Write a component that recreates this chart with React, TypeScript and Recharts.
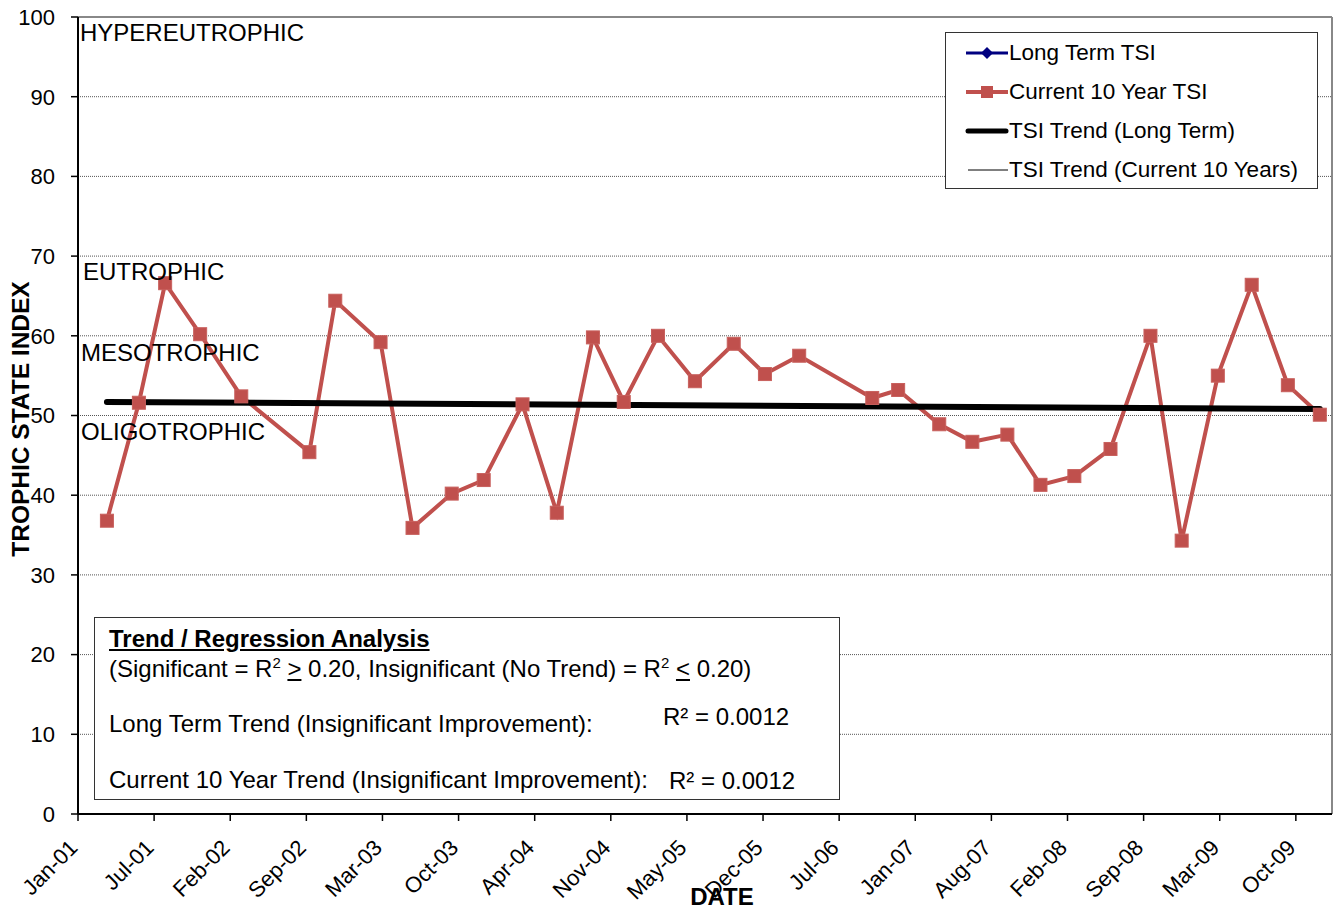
import React from "react";
import { LineChart, Line, XAxis, YAxis, CartesianGrid, ReferenceLine } from "recharts";

// sample dates and TSI values
const sampleDates = [
  "2001-03-28", "2001-06-20", "2001-08-28", "2001-11-28", "2002-03-16", "2002-09-11",
  "2002-11-18", "2003-03-17", "2003-06-09", "2003-09-20", "2003-12-13", "2004-03-24",
  "2004-06-22", "2004-09-25", "2004-12-15", "2005-03-15", "2005-06-20", "2005-09-30",
  "2005-12-21", "2006-03-21", "2006-09-29", "2006-12-06", "2007-03-24", "2007-06-19",
  "2007-09-19", "2007-12-15", "2008-03-13", "2008-06-16", "2008-09-29", "2008-12-20",
  "2009-03-25", "2009-06-22", "2009-09-25", "2009-12-18",
];
const tsiValues = [
  36.8, 51.6, 66.6, 60.2, 52.4, 45.4, 64.4, 59.2, 35.9, 40.2, 41.9, 51.4,
  37.8, 59.8, 51.7, 60.0, 54.3, 59.0, 55.2, 57.5, 52.2, 53.2, 48.9, 46.7,
  47.6, 41.3, 42.4, 45.8, 60.0, 34.3, 55.0, 66.4, 53.8, 50.1,
];
// trend line values at first and last sample
const trendValues = [51.7, 50.8];

const tickLabels = [
  "Jan-01", "Jul-01", "Feb-02", "Sep-02", "Mar-03", "Oct-03", "Apr-04", "Nov-04", "May-05",
  "Dec-05", "Jul-06", "Jan-07", "Aug-07", "Feb-08", "Sep-08", "Mar-09", "Oct-09",
];
const yTicks = [0, 10, 20, 30, 40, 50, 60, 70, 80, 90, 100];

const AXIS_START = 10; // days after Jan 1 2001
const TICK_STEP = 200; // days
const AXIS_END = 3305;

const toDay = (s: string) => {
  const [y, m, d] = s.split("-").map(Number);
  return (Date.UTC(y, m - 1, d) - Date.UTC(2001, 0, 1)) / 86400000;
};

const tsiData = sampleDates.map((d, i) => ({ day: toDay(d), tsi: tsiValues[i] }));
const trendData = [
  { day: toDay(sampleDates[0]), tsi: trendValues[0] },
  { day: toDay(sampleDates[sampleDates.length - 1]), tsi: trendValues[1] },
];
const xTicks = tickLabels.map((_, i) => AXIS_START + i * TICK_STEP);

const FONT = "'Liberation Sans', Arial, sans-serif";
const RED = "#C0504D";

const SquareDot = (props: any) => {
  const { cx, cy } = props;
  if (cx == null || cy == null) return null;
  return <rect x={cx - 6.5} y={cy - 6.5} width={13} height={13} fill={RED} stroke="#C8605D" strokeWidth={1} />;
};

const XTick = (props: any) => {
  const { x, y, index } = props;
  const ax = x + 1;
  const ay = y + 26;
  return (
    <text x={ax} y={ay} transform={`rotate(-45 ${ax} ${ay})`} textAnchor="end" fontSize={22} fontFamily={FONT} fill="#000">
      {tickLabels[index]}
    </text>
  );
};

const legendItems = [
  { label: "Long Term TSI", kind: "diamond" },
  { label: "Current 10 Year TSI", kind: "square" },
  { label: "TSI Trend (Long Term)", kind: "thick" },
  { label: "TSI Trend (Current 10 Years)", kind: "thin" },
];

const LegendBox = () => (
  <div
    style={{
      position: "absolute",
      left: 945,
      top: 32,
      width: 373,
      height: 157,
      border: "1px solid #333",
      background: "#fff",
      fontFamily: FONT,
      fontSize: 22.5,
      boxSizing: "border-box",
      paddingTop: 0,
    }}
  >
    {legendItems.map((it) => (
      <div key={it.label} style={{ display: "flex", alignItems: "center", height: 39 }}>
        <svg width={63} height={20} style={{ flex: "none" }}>
          {it.kind === "diamond" && (
            <>
              <line x1={20} y1={10} x2={62} y2={10} stroke="#000080" strokeWidth={3} />
              <polygon points="41,4 47,10 41,16 35,10" fill="#000080" />
            </>
          )}
          {it.kind === "square" && (
            <>
              <line x1={20} y1={10} x2={62} y2={10} stroke={RED} strokeWidth={4} />
              <rect x={35} y={4} width={12} height={12} fill={RED} />
            </>
          )}
          {it.kind === "thick" && <line x1={22} y1={10} x2={60} y2={10} stroke="#000" strokeWidth={5} strokeLinecap="round" />}
          {it.kind === "thin" && <line x1={22} y1={10} x2={62} y2={10} stroke="#000" strokeWidth={1} />}
        </svg>
        <span style={{ whiteSpace: "nowrap" }}>{it.label}</span>
      </div>
    ))}
  </div>
);

const txt: React.CSSProperties = { position: "absolute", fontFamily: FONT, whiteSpace: "nowrap", color: "#000" };

export default function App() {
  return (
    <div style={{ position: "absolute", left: 0, top: 0, width: 1335, height: 909, background: "#fff", overflow: "hidden" }}>
      <LineChart width={1335} height={909} margin={{ top: 17, right: 3, left: 0, bottom: 0 }}>
        <CartesianGrid vertical={false} stroke="#555" strokeDasharray="1 1" />
        <XAxis
          type="number"
          dataKey="day"
          domain={[AXIS_START, AXIS_END]}
          ticks={xTicks}
          tick={<XTick />}
          height={95}
          allowDataOverflow
          axisLine={{ stroke: "#000", strokeWidth: 2 }}
          tickLine={{ stroke: "#000", strokeWidth: 1.5 }}
          tickSize={7}
          interval={0}
        />
        <YAxis
          type="number"
          domain={[0, 100]}
          ticks={yTicks}
          width={78}
          tick={{ fontSize: 22, fontFamily: FONT, fill: "#000" }}
          axisLine={{ stroke: "#000", strokeWidth: 2 }}
          tickLine={{ stroke: "#000", strokeWidth: 1.5 }}
          tickSize={7}
          tickMargin={16}
          interval={0}
        />
        <ReferenceLine y={100} stroke="#888" strokeWidth={2} />
        <ReferenceLine x={AXIS_END} stroke="#888" strokeWidth={2} />
        <Line
          data={tsiData}
          dataKey="tsi"
          name="Current 10 Year TSI"
          stroke={RED}
          strokeWidth={4}
          dot={<SquareDot />}
          isAnimationActive={false}
        />
        <Line
          data={trendData}
          dataKey="tsi"
          name="TSI Trend (Long Term)"
          stroke="#000"
          strokeWidth={6}
          strokeLinecap="round"
          dot={false}
          isAnimationActive={false}
        />
        <Line
          data={trendData}
          dataKey="tsi"
          name="TSI Trend (Current 10 Years)"
          stroke="#000"
          strokeWidth={1}
          dot={false}
          isAnimationActive={false}
        />
      </LineChart>

      <LegendBox />

      <div style={{ ...txt, left: 80, top: 19, fontSize: 24 }}>HYPEREUTROPHIC</div>
      <div style={{ ...txt, left: 83, top: 258, fontSize: 24 }}>EUTROPHIC</div>
      <div style={{ ...txt, left: 81, top: 339, fontSize: 24 }}>MESOTROPHIC</div>
      <div style={{ ...txt, left: 81, top: 418, fontSize: 24 }}>OLIGOTROPHIC</div>

      <div
        style={{
          ...txt,
          left: 21,
          top: 419,
          fontSize: 24.5,
          fontWeight: "bold",
          transform: "translate(-50%, -50%) rotate(-90deg)",
        }}
      >
        TROPHIC STATE INDEX
      </div>
      <div style={{ ...txt, left: 722, top: 897, fontSize: 24, fontWeight: "bold", transform: "translate(-50%, -50%)" }}>
        DATE
      </div>

      <div
        style={{
          position: "absolute",
          left: 94,
          top: 617,
          width: 746,
          height: 183,
          border: "1.5px solid #333",
          background: "#fff",
          boxSizing: "border-box",
        }}
      >
        <div style={{ ...txt, left: 14, top: 7, fontSize: 24, fontWeight: "bold", textDecoration: "underline" }}>
          Trend / Regression Analysis
        </div>
        <div style={{ ...txt, left: 14, top: 36, fontSize: 24 }}>
          (Significant = R<sup style={{ fontSize: 15 }}>2</sup> <u>&gt;</u> 0.20, Insignificant (No Trend) = R
          <sup style={{ fontSize: 15 }}>2</sup> <u>&lt;</u> 0.20)
        </div>
        <div style={{ ...txt, left: 14, top: 92, fontSize: 24 }}>Long Term Trend (Insignificant Improvement):</div>
        <div style={{ ...txt, left: 568, top: 85, fontSize: 24 }}>R² = 0.0012</div>
        <div style={{ ...txt, left: 14, top: 148, fontSize: 24 }}>Current 10 Year Trend (Insignificant Improvement):</div>
        <div style={{ ...txt, left: 574, top: 149, fontSize: 24 }}>R² = 0.0012</div>
      </div>
    </div>
  );
}
